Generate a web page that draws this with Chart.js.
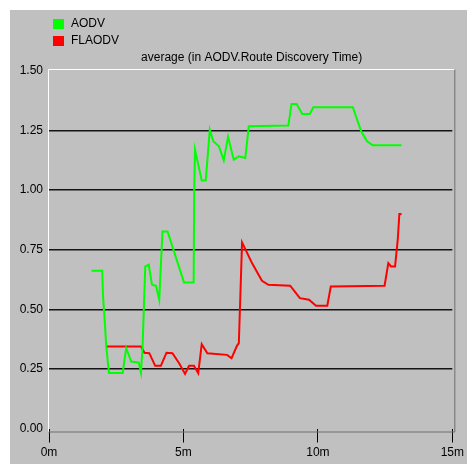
<!DOCTYPE html>
<html>
<head>
<meta charset="utf-8">
<script src="https://cdn.jsdelivr.net/npm/chart.js@4.4.1/dist/chart.umd.min.js"></script>
<style>
html,body{margin:0;padding:0;background:#fff;}
canvas{display:block;}
</style>
</head>
<body>
<canvas id="c" width="467" height="464"></canvas>
<script>
const chartTitle = "average (in AODV.Route Discovery Time)";
const seriesNames = ["AODV", "FLAODV"];
const seriesColors = ["#00ff00", "#ff0000"];
const xTickValues = [0, 5, 10, 15];
const xTickLabels = ["0m", "5m", "10m", "15m"];
const yTickLabels = ["0.00", "0.25", "0.50", "0.75", "1.00", "1.25", "1.50"];

const aodvTime = [1.58, 1.98, 2.01, 2.07, 2.13, 2.23, 2.74, 2.87, 3.06, 3.34, 3.42, 3.48, 3.58, 3.71, 3.83, 3.98, 4.10, 4.22, 4.41, 5.02, 5.38, 5.40, 5.43, 5.68, 5.83, 5.98, 6.11, 6.32, 6.50, 6.66, 6.87, 7.06, 7.30, 7.43, 8.90, 9.02, 9.21, 9.42, 9.70, 9.83, 11.30, 11.61, 11.83, 12.04, 13.11];
const aodvValues = [0.662, 0.662, 0.554, 0.456, 0.344, 0.233, 0.233, 0.338, 0.281, 0.276, 0.234, 0.344, 0.680, 0.687, 0.603, 0.599, 0.540, 0.827, 0.827, 0.613, 0.613, 0.99, 1.170, 1.041, 1.041, 1.254, 1.205, 1.184, 1.125, 1.224, 1.128, 1.142, 1.135, 1.268, 1.271, 1.362, 1.362, 1.320, 1.320, 1.348, 1.348, 1.247, 1.205, 1.188, 1.188];

const flaodvTime = [2.15, 3.42, 3.55, 3.73, 3.95, 4.16, 4.37, 4.59, 4.84, 5.06, 5.21, 5.39, 5.55, 5.68, 5.89, 6.62, 6.79, 6.99, 7.06, 7.18, 7.55, 7.92, 8.16, 8.97, 9.33, 9.67, 9.93, 10.35, 10.48, 12.48, 12.62, 12.72, 12.87, 12.97, 13.03, 13.11];
const flaodvValues = [0.344, 0.344, 0.318, 0.316, 0.263, 0.263, 0.318, 0.316, 0.274, 0.229, 0.263, 0.263, 0.232, 0.354, 0.316, 0.309, 0.295, 0.347, 0.358, 0.781, 0.694, 0.620, 0.603, 0.599, 0.547, 0.540, 0.515, 0.515, 0.596, 0.599, 0.694, 0.680, 0.680, 0.792, 0.900, 0.900];

const FONT = "'Liberation Sans', Arial, sans-serif";

function pts(xs, ys) { return xs.map((x, i) => ({ x: x, y: ys[i] })); }

const framePlugin = {
  id: 'frame',
  beforeDraw(chart) {
    const ctx = chart.ctx;
    ctx.save();
    ctx.fillStyle = '#ffffff';
    ctx.fillRect(0, 0, chart.width, chart.height);
    ctx.fillStyle = '#c0c0c0';
    ctx.fillRect(10, 10, chart.width - 10, chart.height - 10);
    ctx.restore();
  },
  beforeDatasetsDraw(chart) {
    const ctx = chart.ctx;
    const a = chart.chartArea;
    const L = a.left - 0.5, T = a.top - 1.5, R = a.right + 2.5, B = a.bottom + 3.5;
    ctx.save();
    ctx.lineWidth = 1;
    ctx.strokeStyle = '#ffffff';
    ctx.beginPath();
    ctx.moveTo(L, B); ctx.lineTo(L, T); ctx.lineTo(R, T);
    ctx.stroke();
    ctx.strokeStyle = '#6e6e6e';
    ctx.beginPath();
    ctx.moveTo(L, B); ctx.lineTo(R, B); ctx.lineTo(R, T);
    ctx.stroke();
    ctx.restore();
  },
  afterDraw(chart) {
    const ctx = chart.ctx;
    const a = chart.chartArea;
    ctx.save();
    ctx.font = '12px ' + FONT;
    ctx.fillStyle = '#000';
    ctx.textBaseline = 'middle';
    ctx.textAlign = 'center';
    ctx.fillText(chartTitle, (a.left + a.right) / 2 + 1, 58);
    ctx.textAlign = 'left';
    chart.data.datasets.forEach((ds, i) => {
      const y = 19 + i * 17;
      ctx.fillStyle = ds.borderColor;
      ctx.fillRect(53, y, 11, 10);
      ctx.fillStyle = '#000';
      ctx.fillText(ds.label, 71, y + 5);
    });
    ctx.restore();
  }
};

new Chart(document.getElementById('c'), {
  type: 'line',
  data: {
    datasets: [
      { label: seriesNames[0], data: pts(aodvTime, aodvValues), borderColor: seriesColors[0], backgroundColor: seriesColors[0], borderWidth: 2, pointRadius: 0, tension: 0, fill: false },
      { label: seriesNames[1], data: pts(flaodvTime, flaodvValues), borderColor: seriesColors[1], backgroundColor: seriesColors[1], borderWidth: 2, pointRadius: 0, tension: 0, fill: false }
    ]
  },
  options: {
    responsive: false,
    animation: false,
    devicePixelRatio: 1,
    layout: { padding: { left: 0, right: 12, top: 71, bottom: 0 } },
    plugins: { legend: { display: false }, title: { display: false }, tooltip: { enabled: false } },
    scales: {
      x: {
        type: 'linear', min: 0, max: 15,
        afterBuildTicks(scale) { scale.ticks = xTickValues.map(v => ({ value: v })); },
        afterFit(scale) { scale.height = 35.5; },
        ticks: {
          color: '#000', font: { size: 12, family: FONT }, padding: 3, maxRotation: 0, autoSkip: false,
          callback: (v) => xTickLabels[xTickValues.indexOf(v)]
        },
        grid: { drawOnChartArea: false, drawTicks: true, tickLength: 14, color: '#000', lineWidth: 1 },
        border: { display: false }
      },
      y: {
        min: 0, max: 1.5,
        afterBuildTicks(scale) { scale.ticks = yTickLabels.map(t => ({ value: parseFloat(t) })); },
        afterFit(scale) { scale.width = 49; },
        ticks: {
          color: '#000', font: { size: 12, family: FONT }, padding: 6,
          callback: (v) => yTickLabels.find(t => parseFloat(t) === v)
        },
        grid: {
          drawTicks: false,
          color: (c) => (c.tick && (c.tick.value === 0 || c.tick.value === 1.5)) ? 'rgba(0,0,0,0)' : '#141414',
          lineWidth: 1.5
        },
        border: { display: false }
      }
    }
  },
  plugins: [framePlugin]
});
</script>
</body>
</html>
